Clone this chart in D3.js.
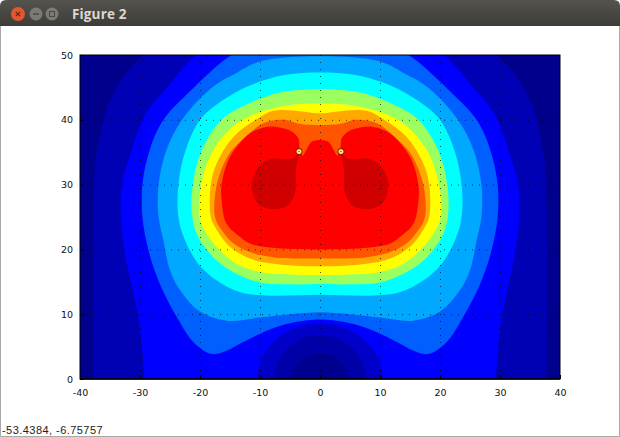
<!DOCTYPE html>
<html><head><meta charset="utf-8">
<script src="https://cdn.jsdelivr.net/npm/d3@7"></script>
<style>html,body{margin:0;padding:0;background:#fff;overflow:hidden}svg{display:block}</style>
</head><body><svg id="c" width="620" height="437"></svg>
<script>
// Right-hand half of each filled contour, [x, y] in data units
const level1 = [[0,60],[22,55],[29.5,50],[34.5,44],[37.2,35],[37.8,25],[37.8,0],[37.8,-3],[0,-3]];
const level2 = [[0,54],[14,53],[20.6,50],[25.5,45],[29,41],[31.4,35.3],[33,30],[33.2,25],[32.6,20],[31.7,15.7],[30.3,9.6],[29.6,4],[29.3,0],[29,-3],[0,-3]];
const level3 = [[0,52],[10,51.5],[14.7,50],[21,45],[26.1,40],[28.4,35.3],[29.6,30],[29.6,25],[28.6,19.9],[26.7,14.7],[23.7,9.3],[21,5.6],[18,3.85],[15.5,4.4],[12.8,5.7],[9,7.4],[5.6,8.5],[0,9.2]];
const level4 = [[0,49.8],[10,49],[14,47.2],[18,45],[23,40],[25.6,35.3],[26.9,30],[26.9,25],[26.1,21.4],[25,16.8],[23.3,13.7],[20,10.4],[15.5,9],[10,9.5],[5,10],[0,10.3]];
const level5 = [[0,47.3],[6,46.9],[12.5,45],[17,42.5],[20,40],[22.4,35.3],[23.6,30],[23.6,25],[22.5,21.4],[20.3,17.8],[17.2,15.2],[13.3,13.4],[8.9,12.9],[0,13]];
const level6 = [[0,44.7],[7.2,44.1],[13,42],[16.4,40],[19.7,35.3],[21.2,30],[21.3,25],[20.3,21.9],[17.8,18.8],[15,16.8],[10,14.9],[4,14.6],[0,14.66]];
const level7 = [[0,42.5],[6.7,42],[13.3,39.8],[17.8,35.3],[19.8,30],[20.1,25],[18.9,22.4],[16.7,19.9],[13.9,17.8],[10,16.5],[4,16.1],[0,16.05]];
const level8 = [[0,41],[3,41.3],[7.8,41.4],[10.7,40],[14.4,37.4],[17.2,33.3],[18.2,30],[18.2,25],[17.2,23],[15,20.4],[11.7,18.6],[7.8,17.8],[0,17.4]];
const level9 = [[0,39.2],[3.5,39.4],[6,40],[9.4,39.5],[13.3,36.6],[15.3,34.5],[17.2,30],[17.5,25],[16.4,23],[14.4,20.9],[11.7,19.6],[7.8,18.8],[0,18.6]];
const level10 = [[0,36.9],[1.4,36.6],[2.2,35.5],[2.9,34.5],[3.4,35.5],[3.6,37.1],[4.7,38.2],[6.7,38.8],[8.9,38.9],[11.7,37.9],[15,34.3],[16.4,30],[16.4,27.6],[15.6,24],[13.3,21.9],[11.7,20.9],[8.3,20.3],[0,20]];
const hole1 = [[0,8.6],[3,8.2],[6,7],[8.5,5],[10,2.5],[10.5,0],[10.5,-3],[0,-3]];
const hole2 = [[0,6.8],[3,6.3],[5.5,4.6],[7.2,2.2],[7.6,0],[7.6,-3],[0,-3]];
const hole3 = [[0,4],[2.5,3.4],[4.2,1.8],[4.8,0],[4.8,-3],[0,-3]];
const lobe = [[3.3,35.2],[4.4,34.1],[5.5,33.9],[8,34],[10,33],[11.2,31],[11.3,29],[10.3,27],[8,26.2],[5.5,26.7],[4.2,28.5],[4,31],[3.9,33]];
const singular = [[-3.5,35.1],[3.5,35.1]];
const bandColors = ["#0000b4","#0000ff","#0060ff","#00a8ff","#00ffff","#9cff60","#ffff00","#ffa800","#ff5400","#ff0000"];
const holeColors = ["#0000c8","#0000a8","#000090"];
const xTicks = [-40,-30,-20,-10,0,10,20,30,40];
const yTicks = [0,10,20,30,40,50];
const figureTitle = "Figure 2";
const statusText = "-53.4384, -6.75757";

const svg = d3.select("#c");
const x = d3.scaleLinear().domain([-40,40]).range([80,560]);
const y = d3.scaleLinear().domain([0,50]).range([379,55]);

// window chrome
svg.append("rect").attr("width",620).attr("height",437).attr("fill","#fff");
const g0 = svg.append("defs").append("linearGradient").attr("id","tb").attr("x1",0).attr("x2",0).attr("y1",0).attr("y2",1);
g0.append("stop").attr("offset",0).attr("stop-color","#55534e");
g0.append("stop").attr("offset",1).attr("stop-color","#3d3c38");
svg.append("path").attr("d","M0,26V6Q0,0 6,0H614Q620,0 620,6V26Z").attr("fill","url(#tb)");
svg.append("path").attr("d","M0.5,26V436.5H619.5V26").attr("fill","none").attr("stroke","#a8a8a8");
svg.append("circle").attr("cx",18).attr("cy",14).attr("r",7).attr("fill","#e2572b");
svg.append("path").attr("d","M15.8,11.8L20.2,16.2M20.2,11.8L15.8,16.2").attr("stroke","#5a2a1a").attr("stroke-width",1.2);
[36,52].forEach(cx=>svg.append("circle").attr("cx",cx).attr("cy",14).attr("r",6.5).attr("fill","#7b7a75"));
svg.append("path").attr("d","M33,14H39").attr("stroke","#3f3e3a").attr("stroke-width",1.2);
svg.append("rect").attr("x",49.5).attr("y",11.5).attr("width",5).attr("height",5).attr("fill","none").attr("stroke","#4a4945");
svg.append("text").attr("x",72).attr("y",18.5).attr("fill","#dcd9d0")
  .attr("font-family","Open Sans, DejaVu Sans, sans-serif").attr("font-weight","700").attr("font-size",13.5).attr("letter-spacing",0.15).text(figureTitle);
svg.append("text").attr("x",2).attr("y",434).attr("fill","#222")
  .attr("font-family","Liberation Sans, sans-serif").attr("font-size",11).attr("letter-spacing",0.45).text(statusText);

// contour fill
svg.append("clipPath").attr("id","plot").append("rect")
  .attr("x",x(-40)).attr("y",y(50)).attr("width",x(40)-x(-40)).attr("height",y(0)-y(50));
const plot = svg.append("g").attr("clip-path","url(#plot)");
plot.append("rect").attr("x",x(-40)).attr("y",y(50)).attr("width",x(40)-x(-40)).attr("height",y(0)-y(50)).attr("fill","#00008c");

const ring = d3.line().x(d=>x(d[0])).y(d=>y(d[1])).curve(d3.curveCatmullRomClosed.alpha(0.5));
const mirrored = half => half.concat(half.slice(1,-1).reverse().map(d=>[-d[0],d[1]]));
const levels = [level1,level2,level3,level4,level5,level6,level7,level8,level9,level10];

plot.selectAll("path.band").data(levels).join("path").attr("class","band")
  .attr("d",d=>ring(mirrored(d))).attr("fill",(d,i)=>bandColors[i]);
plot.selectAll("path.hole").data([hole1,hole2,hole3]).join("path").attr("class","hole")
  .attr("d",d=>ring(mirrored(d))).attr("fill",(d,i)=>holeColors[i]);
plot.selectAll("path.lobe").data([lobe, lobe.map(d=>[-d[0],d[1]])]).join("path").attr("class","lobe")
  .attr("d",ring).attr("fill","#d00000");

// singular points
[[3.4,"#7a1000"],[2.6,"#ffc840"],[1.7,"#fff8a0"],[0.8,"#406070"]].forEach(([r,c])=>{
  plot.selectAll(null).data(singular).join("circle")
    .attr("cx",d=>x(d[0])).attr("cy",d=>y(d[1])).attr("r",r).attr("fill",c);
});

// grid
const grid = svg.append("g").attr("fill","none").attr("stroke","#000").attr("stroke-width",1).attr("stroke-opacity",0.7).attr("stroke-dasharray","1 6");
grid.selectAll("line.v").data(xTicks.slice(1,-1)).join("line").attr("class","v")
  .attr("x1",d=>x(d)+.5).attr("x2",d=>x(d)+.5).attr("y1",y(50)).attr("y2",y(0));
grid.selectAll("line.h").data(yTicks.slice(1,-1)).join("line").attr("class","h")
  .attr("x1",x(-40)).attr("x2",x(40)).attr("y1",d=>y(d)+.5).attr("y2",d=>y(d)+.5);

// axes
const font = "DejaVu Sans, sans-serif";
const ax = svg.append("g").attr("transform",`translate(0,${y(0)})`)
  .call(d3.axisBottom(x).tickValues(xTicks).tickSize(-4).tickPadding(10).tickFormat(d3.format("d")));
const ay = svg.append("g").attr("transform",`translate(${x(-40)},0)`)
  .call(d3.axisLeft(y).tickValues(yTicks).tickSize(-4).tickPadding(7).tickFormat(d3.format("d")));
[ax,ay].forEach(a=>{
  a.select(".domain").remove();
  a.selectAll("text").attr("font-family",font).attr("font-size",9.5).attr("fill","#111").text(d=>String(d));
  a.selectAll("line").attr("stroke","#000");
});
svg.append("rect").attr("x",x(-40)).attr("y",y(50)).attr("width",x(40)-x(-40)).attr("height",y(0)-y(50))
  .attr("fill","none").attr("stroke","#000").attr("stroke-width",1);
svg.append("line").attr("x1",x(-40)).attr("x2",x(40)).attr("y1",y(0)).attr("y2",y(0)).attr("stroke","#000").attr("stroke-width",1.5);
</script></body></html>
